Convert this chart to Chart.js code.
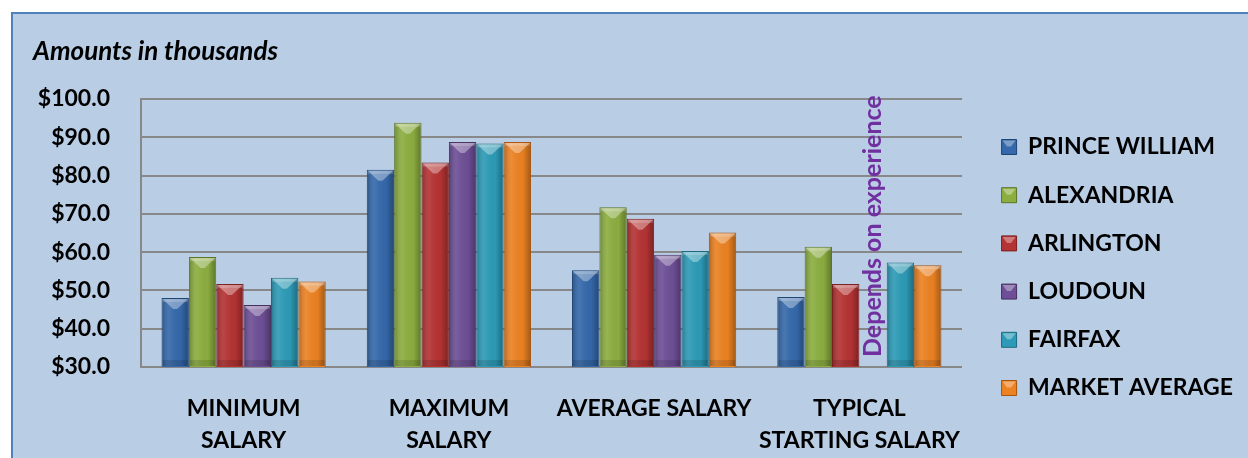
<!DOCTYPE html>
<html>
<head>
<meta charset="utf-8">
<script src="https://cdn.jsdelivr.net/npm/chart.js@4.4.1/dist/chart.umd.min.js"></script>
<style>
  html, body { margin: 0; padding: 0; background: #fff; }
  #wrap { position: absolute; left: 0; top: 0; width: 1248px; height: 458px; }
</style>
</head>
<body>
<div id="wrap"><canvas id="Chart" width="1248" height="458"></canvas></div>
<script>
// categories (multi-line labels as arrays)
let categories = [["MINIMUM", "SALARY"], ["MAXIMUM", "SALARY"], "AVERAGE SALARY", ["TYPICAL", "STARTING SALARY"]]

// values in thousands
let princeWilliam = [48.0, 81.5, 55.3, 48.3]
let alexandria    = [58.7, 93.8, 71.7, 61.4]
let arlington     = [51.7, 83.4, 68.7, 51.7]
let loudoun       = [46.2, 88.8, 59.3, null]
let fairfax       = [53.3, 88.4, 60.3, 57.3]
let marketAverage = [52.3, 88.8, 65.1, 56.6]

let seriesNames = ["PRINCE WILLIAM", "ALEXANDRIA", "ARLINGTON", "LOUDOUN", "FAIRFAX", "MARKET AVERAGE"]
let seriesData = [princeWilliam, alexandria, arlington, loudoun, fairfax, marketAverage]
let fills   = ["#3569ab", "#8cae40", "#b53333", "#6e4f97", "#2d9bb7", "#ec8222"]
let borders = ["#1f4573", "#5b7527", "#7a1f1f", "#46305f", "#1c6a7e", "#a75410"]

let yMin = 30, yMax = 100, yStep = 10
let noteText = "Depends on experience"
let noteSeries = 3, noteCategory = 3

const FONT = "Lato"
const W = 1248
const PAD_RIGHT = 5
const PLOT_RIGHT = 962

// light-blue panel with blue frame
const panel = {
  id: "panel",
  beforeDraw(chart){
    let c = chart.ctx
    c.save()
    c.fillStyle = "#ffffff"
    c.fillRect(0, 0, chart.width, chart.height)
    c.fillStyle = "#b9cde5"
    c.fillRect(12, 13, chart.width, chart.height)
    c.strokeStyle = "#4f81bd"
    c.lineWidth = 2
    c.beginPath()
    c.moveTo(12, chart.height + 5)
    c.lineTo(12, 13)
    c.lineTo(chart.width + 5, 13)
    c.stroke()
    c.restore()
  }
}

function facet(c, l, r, t, h){
  c.fillStyle = "rgba(255,255,255,0.35)"
  c.beginPath()
  c.moveTo(l, t)
  c.lineTo(r, t)
  c.lineTo((l + r) / 2 + 2, t + h)
  c.lineTo((l + r) / 2 - 2, t + h)
  c.closePath()
  c.fill()
}

// bevel look on each bar + the rotated note
const bevel = {
  id: "bevel",
  afterDatasetsDraw(chart){
    let c = chart.ctx
    let area = chart.chartArea
    c.save()
    chart.data.datasets.forEach((ds, di) => {
      let meta = chart.getDatasetMeta(di)
      meta.data.forEach((bar, i) => {
        if (ds.data[i] == null) return
        let p = bar.getProps(["x", "y", "width"], true)
        let l = p.x - p.width / 2, r = p.x + p.width / 2
        let t = p.y, b = area.bottom - 1
        let g = c.createLinearGradient(l, 0, r, 0)
        g.addColorStop(0, "rgba(0,0,0,0.25)")
        g.addColorStop(0.3, "rgba(255,255,255,0.08)")
        g.addColorStop(0.7, "rgba(0,0,0,0.02)")
        g.addColorStop(1, "rgba(0,0,0,0.32)")
        c.fillStyle = g
        c.fillRect(l + 1, t + 1, p.width - 2, b - t - 1)
        facet(c, l + 1, r - 1, t + 1, Math.min(10, (b - t) / 2))
        c.fillStyle = "rgba(255,255,255,0.18)"
        c.fillRect(l + 1, t + 1, p.width - 2, 3)
        c.fillStyle = "rgba(0,0,0,0.12)"
        c.fillRect(l + 1, b - 6, p.width - 2, 6)
      })
    })
    // "Depends on experience"
    let bar = chart.getDatasetMeta(noteSeries).data[noteCategory]
    let ys = chart.scales.y
    c.translate(bar.x, ys.getPixelForValue(yMin) - 10)
    c.rotate(-Math.PI / 2)
    c.font = "bold 25px " + FONT
    c.fillStyle = "#7030a0"
    c.textAlign = "left"
    c.textBaseline = "middle"
    c.fillText(noteText, 0, 0)
    c.restore()
  },
  afterDraw(chart){
    // small bevel on the legend swatches
    let c = chart.ctx
    let lg = chart.legend
    if (!lg || !lg.legendHitBoxes) return
    c.save()
    lg.legendHitBoxes.forEach(hb => {
      let top = hb.top + (hb.height - 15) / 2
      facet(c, hb.left + 1, hb.left + 14, top + 1, 6)
    })
    c.restore()
  }
}

let datasets = seriesNames.map((n, i) => ({
  label: n,
  data: seriesData[i],
  backgroundColor: fills[i],
  borderColor: borders[i],
  borderWidth: 1,
  categoryPercentage: 0.8,
  barPercentage: 1.0
}))

new Chart("Chart", {
  type: "bar",
  data: { labels: categories, datasets: datasets },
  plugins: [panel, bevel],
  options: {
    responsive: false,
    animation: false,
    layout: { padding: { left: 33, top: 36.4, right: PAD_RIGHT, bottom: 0 } },
    plugins: {
      title: {
        display: true,
        text: "Amounts in thousands",
        align: "start",
        color: "#000",
        font: { family: FONT, size: 26, weight: "bold", style: "italic" },
        padding: { top: 0, bottom: 31.4 }
      },
      legend: {
        position: "right",
        align: "start",
        title: { display: true, text: "", font: { size: 1 }, padding: { top: 72.7, bottom: 0 } },
        labels: {
          color: "#000",
          font: { family: FONT, size: 23, weight: "bold" },
          boxWidth: 15,
          boxHeight: 15,
          padding: 25.2
        }
      },
      tooltip: { enabled: false }
    },
    scales: {
      x: {
        grid: { display: false },
        border: { display: false },
        ticks: {
          color: "#000",
          font: { family: FONT, size: 23, weight: "bold", lineHeight: "32px" },
          padding: 18,
          maxRotation: 0,
          autoSkip: false
        },
        afterFit(s){ s.height = 91 }
      },
      y: {
        min: yMin,
        max: yMax,
        grid: { color: "#888888", lineWidth: 2, drawTicks: false },
        border: { display: true, color: "#888888", width: 2 },
        ticks: {
          stepSize: yStep,
          color: "#000",
          padding: 31,
          font: { family: FONT, size: 23, weight: "bold" },
          callback: v => "$" + v.toFixed(1)
        },
        afterFit(s){ s.width = 108 }
      },
      // spacer between plot and legend
      yR: {
        position: "right",
        display: false,
        afterFit(s){ s.width = Math.max(0, W - PAD_RIGHT - s.chart.legend.width - PLOT_RIGHT) }
      }
    }
  }
})
</script>
</body>
</html>
